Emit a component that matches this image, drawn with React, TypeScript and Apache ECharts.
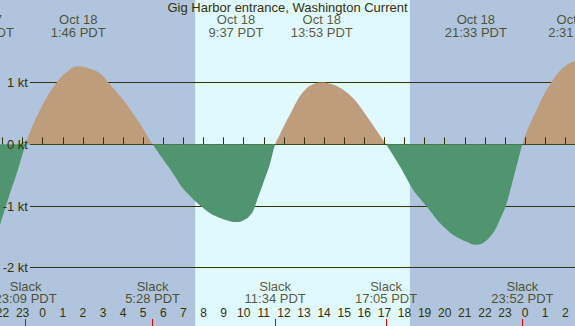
import React, { useEffect, useRef } from "react";
import * as echarts from "echarts";

const TITLE = "Gig Harbor entrance, Washington Current";

// hours relative to midnight that begins Oct 18 (PDT); current speed in knots
const curveHours = [
  -2.25, -1.68, -1.24, -0.85, -0.5, -0.13, 0.2, 0.7, 1.2, 1.767, 2.3, 2.85, 3.26, 3.75, 4.26, 4.6, 4.93, 5.2,
  5.467, 5.85, 6.25, 6.6, 6.92, 7.25, 7.58, 7.9, 8.25, 8.66, 9.15, 9.617, 10.0, 10.32, 10.5, 10.65, 10.97, 11.31,
  11.567, 11.8, 12.05, 12.3, 12.72, 13.05, 13.38, 13.883, 14.3, 14.71, 15.05, 15.37, 15.7, 16.03, 16.37, 16.7,
  17.083, 17.4, 17.78, 18.1, 18.44, 18.77, 19.1, 19.44, 19.77, 20.1, 20.43, 20.76, 21.09, 21.55, 21.76, 22.0,
  22.25, 22.5, 22.75, 23.03, 23.25, 23.44, 23.66, 23.867, 24.1, 24.49, 24.9, 25.32, 25.65, 25.98, 26.25, 26.6,
];
const curveKnots = [
  -1.44, -0.85, -0.42, 0, 0.3, 0.56, 0.76, 1.0, 1.17, 1.26, 1.23, 1.15, 1.0, 0.82, 0.61, 0.45, 0.29, 0.14,
  0, -0.18, -0.36, -0.53, -0.69, -0.81, -0.92, -1.01, -1.1, -1.17, -1.23, -1.26, -1.23, -1.15, -1.06, -0.92, -0.63, -0.31,
  0, 0.16, 0.33, 0.48, 0.74, 0.88, 0.96, 1.0, 0.98, 0.93, 0.86, 0.77, 0.65, 0.5, 0.34, 0.18,
  0, -0.16, -0.36, -0.55, -0.74, -0.88, -1.01, -1.15, -1.28, -1.38, -1.47, -1.53, -1.58, -1.63, -1.62, -1.58,
  -1.5, -1.39, -1.22, -1.01, -0.76, -0.52, -0.25, 0, 0.22, 0.5, 0.78, 1.01, 1.16, 1.26, 1.32, 1.36,
];

const extremaHours = [-2.98, 1.767, 9.617, 13.883, 21.55, 26.517];
const extremaDates = ["Oct 17", "Oct 18", "Oct 18", "Oct 18", "Oct 18", "Oct 19"];
const extremaClock = ["21:01 PDT", "1:46 PDT", "9:37 PDT", "13:53 PDT", "21:33 PDT", "2:31 PDT"];

const slackHours = [-0.85, 5.467, 11.567, 17.083, 23.867];
const slackClock = ["23:09 PDT", "5:28 PDT", "11:34 PDT", "17:05 PDT", "23:52 PDT"];

const hourTicks = [
  -2, -1, 0, 1, 2, 3, 4, 5, 6, 7, 8, 9, 10, 11, 12, 13, 14, 15, 16, 17, 18, 19, 20, 21, 22, 23, 24, 25, 26,
];
const midnightTicks = [0, 24];
const speedTicks = [-2, -1, 0, 1];
const daylight = [[7.585, 18.27]];

// layout
const W = 575;
const H = 326;
const X_MIN = -2.124;
const X_MAX = 26.483;
const Y_MIN = -2.945;
const Y_MAX = 2.339;
const TOP_ROW = 25.5;
const SLACK_ROW = 292.8;

const INK = "#333300";
const NIGHT = "#b0c4de";
const DAY = "#e0f8ff";
const FLOOD = "#be9d7d";
const EBB = "#509570";
const FONT = "Liberation Sans";

export default function App() {
  const ref = useRef<HTMLDivElement>(null);
  useEffect(() => {
    document.body.style.margin = "0";
    if (!ref.current) return;
    const chart = echarts.init(ref.current, undefined, { renderer: "svg" });
    const hiddenX = (grid: number) => ({
      type: "value", gridIndex: grid, min: X_MIN, max: X_MAX, show: false,
    });
    const tickAxis = (values: number[], color: string, width: number, length: number, z: number) => ({
      type: "value",
      gridIndex: 0,
      position: "bottom",
      min: X_MIN,
      max: X_MAX,
      z,
      axisLine: { show: false },
      splitLine: { show: false },
      axisLabel: { show: false },
      axisTick: {
        show: true, inside: true, length, customValues: values,
        lineStyle: { color, width },
      },
    });
    chart.setOption({
      animation: false,
      textStyle: { fontFamily: FONT, color: INK },
      title: {
        text: TITLE,
        left: "center",
        top: 1,
        padding: 0,
        textStyle: { fontFamily: FONT, fontSize: 13, fontWeight: "normal", color: INK },
      },
      grid: [
        {
          left: 0, right: 0, top: 0, bottom: 0, show: true, backgroundColor: NIGHT, borderWidth: 0,
          containLabel: false, outerBoundsMode: "none",
        },
        { left: 30, right: 0, top: 0, bottom: 0, show: false, containLabel: false, outerBoundsMode: "none" },
      ],
      xAxis: [
        {
          type: "value",
          gridIndex: 0,
          position: "bottom",
          min: X_MIN,
          max: X_MAX,
          z: 5,
          axisLine: { show: false },
          splitLine: { show: false },
          axisTick: {
            show: true, inside: true, length: 7, customValues: hourTicks,
            lineStyle: { color: INK, width: 1 },
          },
          axisLabel: {
            show: true, inside: true, margin: 7, customValues: hourTicks,
            fontFamily: FONT, fontSize: 12, color: INK,
            formatter: (v: number) => String(((Math.round(v) % 24) + 24) % 24),
          },
        },
        tickAxis(midnightTicks, "#1a1a00", 3, 8, 6),
        tickAxis(slackHours, "#e00000", 1, 7, 7),
        hiddenX(1),
      ],
      yAxis: [
        { type: "value", gridIndex: 0, min: Y_MIN, max: Y_MAX, show: false },
        { type: "value", gridIndex: 0, min: 0, max: H, inverse: true, show: false },
        {
          type: "value",
          gridIndex: 1,
          position: "left",
          min: Y_MIN,
          max: Y_MAX,
          z: 2,
          axisLine: { show: false },
          axisTick: { show: false, customValues: speedTicks },
          axisLabel: { show: false, customValues: speedTicks },
          splitLine: { show: true, lineStyle: { color: INK, width: 1 } },
        },
        {
          type: "value",
          gridIndex: 1,
          position: "left",
          min: Y_MIN,
          max: Y_MAX,
          z: 9,
          axisLine: { show: false },
          axisTick: { show: false, customValues: speedTicks },
          splitLine: { show: false },
          axisLabel: {
            show: true, margin: 2, customValues: speedTicks,
            fontFamily: FONT, fontSize: 13, color: INK,
            formatter: (v: number) => `${v} kt`,
          },
        },
      ],
      visualMap: {
        type: "piecewise",
        show: false,
        seriesIndex: 1,
        dimension: 1,
        pieces: [
          { min: -2.9, max: 0, color: EBB },
          { min: 0, max: 2.3, color: FLOOD },
        ],
      },
      series: [
        {
          type: "custom",
          xAxisIndex: 0,
          yAxisIndex: 0,
          z: 1,
          silent: true,
          data: daylight,
          renderItem: (params: any, api: any) => {
            const a = api.coord([api.value(0), 0]);
            const b = api.coord([api.value(1), 0]);
            const cs = params.coordSys;
            return {
              type: "rect",
              shape: { x: a[0], y: cs.y, width: b[0] - a[0], height: cs.height },
              style: { fill: DAY },
            };
          },
        },
        {
          type: "line",
          xAxisIndex: 0,
          yAxisIndex: 0,
          z: 3,
          silent: true,
          smooth: 0.5,
          symbol: "none",
          lineStyle: { width: 0 },
          areaStyle: { opacity: 1 },
          data: curveHours.map((h, i) => [h, curveKnots[i]]),
        },
        {
          type: "scatter",
          xAxisIndex: 0,
          yAxisIndex: 1,
          z: 8,
          silent: true,
          clip: false,
          symbolSize: 0,
          data: extremaHours.map((h, i) => ({
            value: [h, TOP_ROW],
            name: `${extremaDates[i]}\n${extremaClock[i]}`,
          })),
          label: {
            show: true, position: "inside", formatter: "{b}",
            fontFamily: FONT, fontSize: 13, lineHeight: 13, color: INK,
          },
        },
        {
          type: "scatter",
          xAxisIndex: 0,
          yAxisIndex: 1,
          z: 8,
          silent: true,
          clip: false,
          symbolSize: 0,
          data: slackHours.map((h, i) => ({
            value: [h, SLACK_ROW],
            name: `Slack\n${slackClock[i]}`,
          })),
          label: {
            show: true, position: "inside", formatter: "{b}",
            fontFamily: FONT, fontSize: 13, lineHeight: 12, color: INK,
          },
        },
      ],
    });
    return () => chart.dispose();
  }, []);
  return <div ref={ref} style={{ width: W, height: H }} />;
}
